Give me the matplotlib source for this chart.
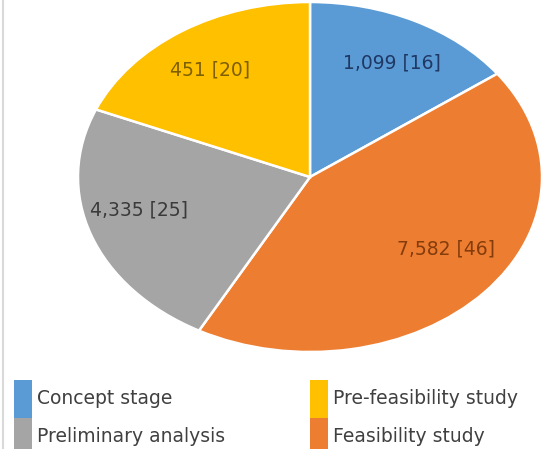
import matplotlib
matplotlib.use('Agg')
import matplotlib.pyplot as plt
from matplotlib.patches import Patch
from matplotlib.lines import Line2D

# DATA (slice order: clockwise from 12 o'clock)
stages = ['Concept stage', 'Feasibility study', 'Preliminary analysis', 'Pre-feasibility study']
amounts = ['1,099', '7,582', '4,335', '451']
counts = [16, 46, 25, 20]
colors = ['#5B9BD5', '#ED7D31', '#A5A5A5', '#FFC000']
label_colors = ['#1F3864', '#843C0C', '#3A3A3A', '#7F6000']

# legend order as in the picture (column-wise)
legend_left = ['Concept stage', 'Preliminary analysis']
legend_right = ['Pre-feasibility study', 'Feasibility study']

W, H = 543, 449
fig = plt.figure(figsize=(W / 100, H / 100), dpi=100)
fig.patch.set_facecolor('white')

# pie axes stretched like the original (the pie is an ellipse)
ax = fig.add_axes([78 / W, 1 - 352 / H, (542 - 78) / W, 350 / H])
labels = [a + ' [' + str(c) + ']' for a, c in zip(amounts, counts)]
wedges, texts = ax.pie(counts, labels=labels, colors=colors, startangle=90,
                       counterclock=False, labeldistance=0.78,
                       wedgeprops=dict(edgecolor='white', linewidth=1.8))
for t, c in zip(texts, label_colors):
    t.set_ha('center')
    t.set_va('center')
    t.set_color(c)
    t.set_fontsize(13.5)
    # labels sit a little higher / tighter vertically than the plain radius
    t.set_y(t.get_position()[1] * 0.88 + 0.04)
ax.set_aspect('auto')
ax.set_xlim(-1, 1)
ax.set_ylim(-1, 1)
ax.axis('off')

# LEGEND (two columns)
col = dict(zip(stages, colors))
for names, x0 in [(legend_left, 14), (legend_right, 310)]:
    handles = [Patch(facecolor=col[n], edgecolor='none') for n in names]
    leg = fig.legend(handles, names, loc='upper left',
                     bbox_to_anchor=(x0 / W, 1 - 380 / H), borderaxespad=0,
                     borderpad=0, frameon=False, fontsize=13.5,
                     handlelength=0.95, handleheight=2.7, handletextpad=0.3,
                     labelspacing=0.0)
    for t in leg.get_texts():
        t.set_color('#404040')

# thin border on the left
fig.add_artist(Line2D([3 / W, 3 / W], [0, 1], color='#D9D9D9', linewidth=1.5))

fig.savefig('out.png', dpi=100)
